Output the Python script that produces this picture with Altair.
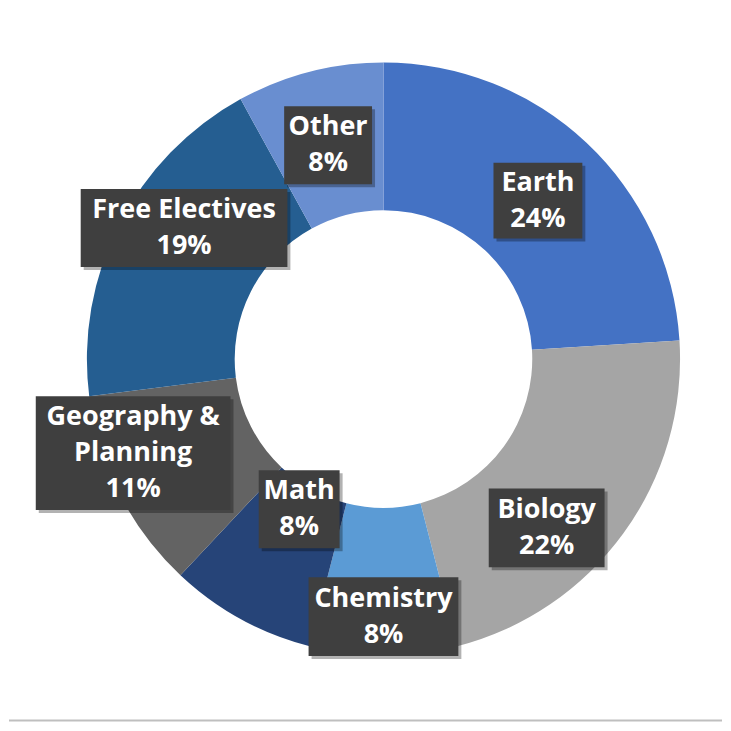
import altair as alt
import pandas as pd

# ---- data ----
categories = ["Earth", "Biology", "Chemistry", "Math", "Geography & Planning", "Free Electives", "Other"]
values = [24, 22, 8, 8, 11, 19, 8]
label_lines = [["Earth"], ["Biology"], ["Chemistry"], ["Math"], ["Geography &", "Planning"], ["Free Electives"], ["Other"]]

# ---- styles ----
colors = ["#4472C4", "#A5A5A5", "#5B9BD5", "#264478", "#636363", "#255E91", "#698ED0"]
label_nudge_x = [2, -17, 0, 23, -52, -1, 0]
label_nudge_y = [4, 38, 35, -45, -7, -30, 2]
box_w = [89, 116, 150, 81, 195, 207, 88]
box_h = [76, 79, 79, 78, 114, 78, 78]

W, H = 714, 714
CX, CY = 375, 351
R_OUT, R_IN = 297, 149
R_LAB = 223
LINE_H = 36

lines = [l + [f"{v}%"] for l, v in zip(label_lines, values)]
df = pd.DataFrame({
    "idx": list(range(len(categories))),
    "category": categories,
    "value": values,
    "lines": lines,
    "nlines": [len(l) for l in lines],
    "ndx": label_nudge_x,
    "ndy": label_nudge_y,
    "box": [f"M{-w/2},{-h/2}H{w/2}V{h/2}H{-w/2}Z" for w, h in zip(box_w, box_h)],
})

base = alt.Chart(df)

arcs = base.mark_arc(innerRadius=R_IN, outerRadius=R_OUT, strokeWidth=0).encode(
    theta=alt.Theta("value:Q", stack=True),
    order=alt.Order("idx:Q"),
    color=alt.Color("category:N", scale=alt.Scale(domain=categories, range=colors), legend=None),
    x=alt.value(CX),
    y=alt.value(CY),
)

pos = base.transform_window(
    cum="sum(value)", sort=[alt.SortField("idx")], frame=[None, 0]
).transform_joinaggregate(
    total="sum(value)"
).transform_calculate(
    mid="(datum.cum - datum.value/2) / datum.total * 2 * PI",
).transform_calculate(
    px=f"{CX} + {R_LAB} * sin(datum.mid) + datum.ndx",
    py=f"{CY} - {R_LAB} * cos(datum.mid) + datum.ndy",
).transform_calculate(
    sx="datum.px + 3",
    sy="datum.py + 3",
    ty=f"datum.py - (datum.nlines - 1) * {LINE_H / 2}",
)

shadow = pos.mark_point(filled=True, opacity=0.3, color="#000000", strokeWidth=0).encode(
    x=alt.X("sx:Q", scale=None),
    y=alt.Y("sy:Q", scale=None),
    shape=alt.Shape("box:N", scale=None),
    size=alt.value(4),
)

boxes = pos.mark_point(filled=True, opacity=1, color="#3f3f3f", strokeWidth=0).encode(
    x=alt.X("px:Q", scale=None),
    y=alt.Y("py:Q", scale=None),
    shape=alt.Shape("box:N", scale=None),
    size=alt.value(4),
)

texts = pos.mark_text(
    font="Open Sans", fontWeight="bold", fontSize=27, color="white",
    lineHeight=LINE_H, align="center", baseline="middle",
).encode(
    x=alt.X("px:Q", scale=None),
    y=alt.Y("ty:Q", scale=None),
    text=alt.Text("lines"),
)

rule = alt.Chart(pd.DataFrame({"a": [0]})).mark_rule(color="#BFBFBF", strokeWidth=2).encode(
    x=alt.value(0), x2=alt.value(W), y=alt.value(H - 1)
)

chart = alt.layer(arcs, shadow, boxes, texts, rule).properties(
    width=W, height=H, padding=0, background="white"
).configure_view(stroke=None)

chart.save("out.html", embed_options={"renderer": "svg", "actions": False})
